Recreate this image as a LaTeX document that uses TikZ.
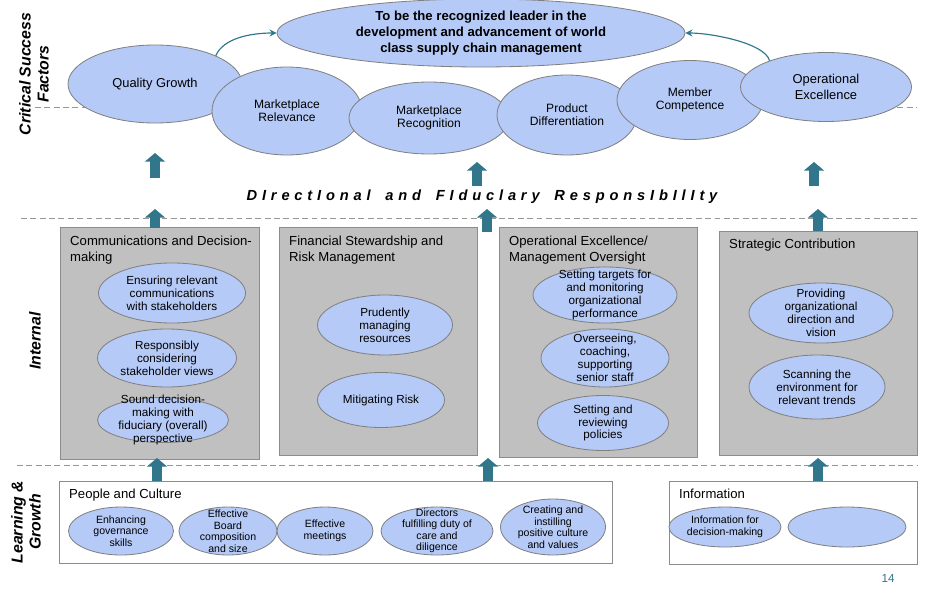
\documentclass[tikz,border=0pt]{standalone}
\usepackage{fontspec}
\setmainfont{Liberation Sans}
\usetikzlibrary{shapes.geometric,arrows.meta}

\definecolor{bubble}{RGB}{181,202,247}
\definecolor{edgegray}{RGB}{128,128,128}
\definecolor{boxgray}{RGB}{192,192,192}
\definecolor{boxedge}{RGB}{140,140,140}
\definecolor{sepgray}{RGB}{150,150,150}
\definecolor{arrowteal}{RGB}{49,118,138}
\newcommand{\setfs}[2]{\fontsize{#1}{#2}\selectfont}

\begin{document}
\begin{tikzpicture}[x=0.03cm,y=-0.03cm,
	bub/.style 2 args={ellipse, draw=edgegray, fill=bubble, line width=0.7pt, minimum width=#1*0.03cm, minimum height=#2*0.03cm, inner sep=0pt},
	goaltxt/.style={align=center, font=\bfseries\setfs{11.2}{13.6}},
	bigtxt/.style={align=center, font=\setfs{11}{13.8}},
	toptxt/.style={align=center, font=\setfs{10.3}{10.8}},
	midtxt/.style={align=center, font=\setfs{10}{11}},
	lowtxt/.style={align=center, font=\setfs{9}{9.8}},
	gbox/.style={draw=boxedge, fill=boxgray, line width=0.8pt, anchor=north west, inner sep=0pt},
	wbox/.style={draw=boxedge, fill=white, line width=0.8pt, anchor=north west, inner sep=0pt},
	boxtitle/.style={anchor=north west, align=left, inner sep=0pt, font=\setfs{11.2}{13.6}},
	sidetxt/.style={rotate=90, align=center, font=\bfseries\itshape\setfs{13.5}{15.5}},
	sep/.style={draw=sepgray, line width=0.8pt, dash pattern=on 5pt off 3pt},
	blockarrow/.style={draw=arrowteal, line width=3mm, -{Triangle[width=6mm,length=2.6mm]}},
	curvearrow/.style={draw=arrowteal, line width=1pt, -{Stealth[length=6pt,width=6pt]}}]
	\useasboundingbox (0,0) rectangle (937,588);

	% separators
	\draw[sep] (35,107) -- (917,107);
	\draw[sep] (21,218) -- (917,218);
	\draw[sep] (17,465) -- (917,465);

	% side labels
	\node[sidetxt] (csf) at (34,74) {Critical Success\\Factors};
	\node[sidetxt] (internal) at (35,341) {Internal};
	\node[sidetxt] (learn) at (26,522) {Learning \&\\Growth};

	% critical success factors
	\node[bub={408}{68}, label={[goaltxt]center:To be the recognized leader in the\\development and advancement of world\\class supply chain management}] (goal) at (481,33) {};
	\node[bub={174}{78}, label={[bigtxt]center:Quality Growth}] (qg) at (155,84) {};
	\node[bub={150}{88}, label={[toptxt]center:Marketplace\\Relevance}] (mrel) at (287,111) {};
	\node[bub={160}{72}, label={[toptxt]center:Marketplace\\Recognition}] (mrec) at (429,118) {};
	\node[bub={140}{80}, label={[toptxt]center:Product\\Differentiation}] (pd) at (567,115) {};
	\node[bub={146}{79}, label={[toptxt]center:Member\\Competence}] (mc) at (690,100) {};
	\node[bub={171}{69}, label={[bigtxt]center:Operational\\Excellence}] (oe) at (826,87) {};
	\draw[curvearrow] (qg.25) .. controls +(8,-18) and +(-25,0) .. (goal.west);
	\draw[curvearrow] (oe.155) .. controls +(-5,-18) and +(25,0) .. (goal.east);

	\node[font=\bfseries\itshape\setfs{12.5}{15}\addfontfeatures{LetterSpace=33}] (duty) at (482,197) {DIrectIonal\hspace{5pt} and\hspace{5pt} FIduclary\hspace{5pt} ResponsIbIlIty};

	% internal
	\node[gbox, minimum width=199*0.03cm, minimum height=232*0.03cm] (cdm) at (60,227) {};
	\node[gbox, minimum width=198*0.03cm, minimum height=228*0.03cm] (fsr) at (279,227) {};
	\node[gbox, minimum width=198*0.03cm, minimum height=230*0.03cm] (oem) at (499,227) {};
	\node[gbox, minimum width=198*0.03cm, minimum height=224*0.03cm] (sc) at (719,231) {};
	\node[boxtitle] (cdmt) at (70,236) {Communications and Decision-\\making};
	\node[boxtitle] (fsrt) at (289,236) {Financial Stewardship and\\Risk Management};
	\node[boxtitle] (oemt) at (509,236) {Operational Excellence/\\Management Oversight};
	\node[boxtitle] (sct) at (729,239) {Strategic Contribution};

	\node[bub={147}{60}, label={[midtxt]center:Ensuring relevant\\communications\\with stakeholders}] (erc) at (172,293) {};
	\node[bub={139}{58}, label={[midtxt]center:Responsibly\\considering\\stakeholder views}] (rcs) at (167,358) {};
	\node[bub={131}{45}, label={[midtxt]center:Sound decision-\\making with\\fiduciary (overall)\\perspective}] (sdm) at (163,420) {};
	\node[bub={135}{60}, label={[midtxt]center:Prudently\\managing\\resources}] (pmr) at (385,325) {};
	\node[bub={127}{55}, label={[midtxt]center:Mitigating Risk}] (mr) at (381,400) {};
	\node[bub={144}{56}, label={[midtxt]center:Setting targets for\\and monitoring\\organizational\\performance}] (stm) at (605,295) {};
	\node[bub={128}{58}, label={[midtxt]center:Overseeing,\\coaching,\\supporting\\senior staff}] (ocs) at (605,358) {};
	\node[bub={131}{55}, label={[midtxt]center:Setting and\\reviewing\\policies}] (srp) at (603,423) {};
	\node[bub={144}{60}, label={[midtxt]center:Providing\\organizational\\direction and\\vision}] (pod) at (821,313) {};
	\node[bub={136}{64}, label={[midtxt]center:Scanning the\\environment for\\relevant trends}] (set) at (817,387) {};

	% learning and growth
	\node[wbox, minimum width=553*0.03cm, minimum height=82*0.03cm] (pc) at (59,481) {};
	\node[wbox, minimum width=248*0.03cm, minimum height=83*0.03cm] (info) at (669,481) {};
	\node[boxtitle] (pct) at (69,489) {People and Culture};
	\node[boxtitle] (infot) at (679,489) {Information};
	\node[bub={105}{48}, label={[lowtxt]center:Enhancing\\governance\\skills}] (egs) at (121,531) {};
	\node[bub={98}{48}, label={[lowtxt]center:Effective\\Board\\composition\\and size}] (ebc) at (228,531) {};
	\node[bub={96}{48}, label={[lowtxt]center:Effective\\meetings}] (em) at (325,531) {};
	\node[bub={112}{48}, label={[lowtxt]center:Directors\\fulfilling duty of\\care and\\diligence}] (dfd) at (437,531) {};
	\node[bub={105}{56}, label={[lowtxt]center:Creating and\\instilling\\positive culture\\and values}] (cic) at (553,527) {};
	\node[bub={112}{40}, label={[lowtxt]center:Information for\\decision-making}] (ifd) at (725,527) {};
	\node[bub={118}{40}] (blank) at (847,527) {};

	% block arrows
	\foreach \x/\y/\l in {155/178/25, 155/228/19, 477/186/24, 487/232/23, 814/186/24, 818/231/22, 157/481/23, 488/481/23, 818/481/23}
		\draw[blockarrow] (\x,\y) -- ++(0,-\l);

	\node[font=\setfs{10}{12}, text=arrowteal] (pagenum) at (888,578) {14};
\end{tikzpicture}
\end{document}
